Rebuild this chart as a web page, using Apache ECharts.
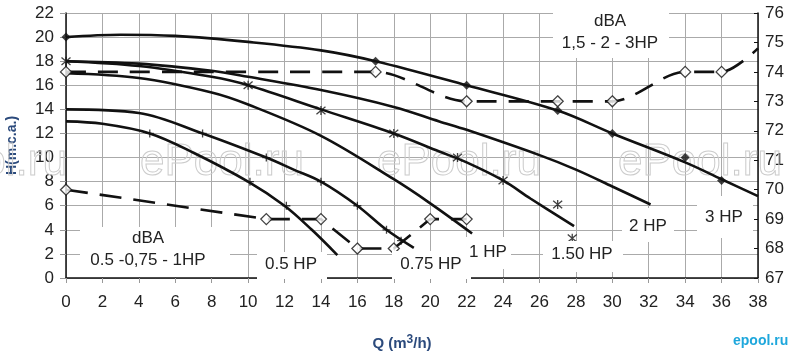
<!DOCTYPE html>
<html>
<head>
<meta charset="utf-8">
<script src="https://cdn.jsdelivr.net/npm/echarts@6/dist/echarts.min.js"></script>
<style>
  html, body { margin: 0; padding: 0; background: #fff; }
  #chart { width: 800px; height: 352px; }
</style>
</head>
<body>
<div id="chart"></div>
<script>
// curvas H (m.c.a.) por caudal Q (m3/h)
var q3hp = [0, 3, 6, 10, 14, 17, 22, 27, 30, 34, 36, 38];
var h3hp = [20, 20.2, 20.1, 19.6, 18.9, 18, 16, 13.9, 12, 9.6, 8.2, 6.8];
var q2hp = [0, 4, 8, 10, 14, 18, 20.5, 22, 26, 28, 30, 32.1];
var h2hp = [18, 17.8, 17.2, 16.7, 15.6, 14.2, 13.0, 12.3, 10.2, 9.0, 7.6, 6.1];
var q15hp = [0, 4, 8, 10, 14, 18, 20.5, 22, 24, 25.5, 27.9];
var h15hp = [18, 17.6, 16.7, 16, 14, 12, 10.5, 9.6, 8.1, 6.6, 4.3];
var q1hp = [0, 4, 8, 10, 14, 18, 20, 22.3];
var h1hp = [17, 16.6, 15.4, 14.4, 11.8, 8.2, 6.2, 3.7];
var q075hp = [0, 4, 7.5, 11, 12.5, 14, 16, 17.6, 19.1];
var h075hp = [14, 13.7, 12, 10, 9, 8, 6, 4, 2.5];
var q05hp = [0, 2, 4.6, 7, 10, 12, 13.5, 14.9];
var h05hp = [13, 12.8, 12, 10.4, 8, 6, 4, 1.9];

// ruido dBA (eje derecho)
var qDbaHigh = [0, 17, 22, 27, 30, 34, 36, 38];
var dbaHigh = [74, 74, 73, 73, 73, 74, 74, 74.8];
var qDbaLow = [0, 11, 14, 16, 18, 20, 22];
var dbaLow = [70, 69, 69, 68, 68, 69, 69];

// marcadores
var qMark3 = [0, 17, 22, 27, 30, 34, 36];
var hMark3 = [20, 18, 16, 13.9, 12, 10, 8.1];
var qMarkStar = [0, 10, 14, 18, 21.5, 24, 27, 27.8];
var hMarkStar = [18, 16, 13.9, 12, 10, 8.1, 6.1, 3.3];
var qMarkPlus = [4.6, 7.5, 11, 10.1, 14, 12.1, 16, 17.6, 18.4];
var hMarkPlus = [12, 12, 10, 8, 8, 6, 6, 4, 3.1];

var labels = ['dBA\n1,5 - 2 - 3HP', 'dBA\n0.5 -0,75 - 1HP', '0.5 HP', '0.75 HP', '1 HP', '1.50 HP', '2 HP', '3 HP'];

function zip(a, b) {
  var out = [];
  for (var i = 0; i < a.length; i++) out.push([a[i], b[i]]);
  return out;
}

var FONT = '"Liberation Sans", Arial, sans-serif';
var starPath = 'path://M0,0L10,10M10,0L0,10M5,-1L5,11';
var plusPath = 'path://M0,5L10,5M5,0L5,10';

function curve(name, q, h) {
  return {
    name: name, type: 'line', data: zip(q, h), smooth: 0.35, symbol: 'none',
    lineStyle: { color: '#111', width: 2.6 }, z: 3
  };
}
function marks(q, h, symbol, size, style, axis) {
  return {
    type: 'scatter', data: zip(q, h), symbol: symbol, symbolSize: size,
    yAxisIndex: axis || 0, itemStyle: style, z: 4
  };
}

var myChart = echarts.init(document.getElementById('chart'));

// cajas blancas de las etiquetas
function box(x, y, w, h, text, tx, ty) {
  return [
    { type: 'rect', shape: { x: x, y: y, width: w, height: h }, style: { fill: '#fff' }, z: 10 },
    { type: 'text', x: tx, y: ty, z: 11,
      style: { text: text, font: '17px ' + FONT, fill: '#222', align: 'center', verticalAlign: 'middle', lineHeight: 22 } }
  ];
}

var graphics = [];
[-97, 140, 377, 618].forEach(function (x) {
  graphics.push({ type: 'text', x: x, y: 163, z: 1,
    style: { text: 'ePool.ru', font: '44px ' + FONT, fill: 'none', stroke: '#cccccc', lineWidth: 1, verticalAlign: 'middle' } });
});
graphics = graphics
  .concat(box(553, 4, 116, 54, labels[0], 610, 32))
  .concat(box(80, 227, 150, 50, labels[1], 148, 249))
  .concat(box(257, 252, 70, 27, labels[2], 291, 264))
  .concat(box(392, 251, 79, 28, labels[3], 431, 264))
  .concat(box(466, 237, 45, 32, labels[4], 488, 252))
  .concat(box(543, 241, 80, 31, labels[5], 582, 254))
  .concat(box(622, 208, 52, 34, labels[6], 648, 226))
  .concat(box(697, 196, 56, 42, labels[7], 724, 217));
graphics.push({ type: 'text', x: 733, y: 334, z: 11,
  style: { text: 'epool.ru', font: 'bold 14px ' + FONT, fill: '#1ea7dc' } });

myChart.setOption({
  animation: false,
  backgroundColor: '#fff',
  grid: { left: 66, right: 42, top: 13, bottom: 74, containLabel: false, outerBoundsMode: 'none' },
  xAxis: {
    type: 'value', min: 0, max: 38, interval: 2,
    name: '{b|Q (m}{s|3}{b|/h)}', nameLocation: 'middle', nameGap: 56,
    nameTextStyle: {
      padding: [0, 20, 0, 0],
      rich: {
        b: { fontFamily: FONT, fontSize: 15, fontWeight: 'bold', color: '#2b4a7c' },
        s: { fontFamily: FONT, fontSize: 12, fontWeight: 'bold', color: '#2b4a7c', padding: [0, 0, 7, 0] }
      }
    },
    axisLine: { lineStyle: { color: '#111', width: 1.5 } },
    axisTick: { show: true, length: 5, lineStyle: { color: '#999' } },
    axisLabel: { fontFamily: FONT, fontSize: 17, color: '#222', margin: 16 },
    splitLine: { show: true, lineStyle: { color: '#aaa', width: 1 } }
  },
  yAxis: [{
    type: 'value', min: 0, max: 22, interval: 2,
    name: 'H(m.c.a.)', nameLocation: 'middle', nameGap: 47, nameRotate: 90,
    nameTextStyle: { fontFamily: FONT, fontSize: 14, fontWeight: 'bold', color: '#2b4a7c', padding: [0, 0, 0, 0] },
    axisLine: { show: true, lineStyle: { color: '#111', width: 1.5 } },
    axisTick: { show: true, length: 6, lineStyle: { color: '#999' } },
    axisLabel: { fontFamily: FONT, fontSize: 17, color: '#222', margin: 12 },
    splitLine: { show: true, lineStyle: { color: '#aaa', width: 1 } }
  }, {
    type: 'value', min: 67, max: 76, interval: 1, position: 'right',
    axisLine: { show: true, lineStyle: { color: '#111', width: 1.5 } },
    axisTick: { show: true, length: 4, inside: true, lineStyle: { color: '#111' } },
    axisLabel: { fontFamily: FONT, fontSize: 17, color: '#222', margin: 7 },
    splitLine: { show: false }
  }],
  graphic: graphics,
  series: [
    curve('3 HP', q3hp, h3hp),
    curve('2 HP', q2hp, h2hp),
    curve('1.50 HP', q15hp, h15hp),
    curve('1 HP', q1hp, h1hp),
    curve('0.75 HP', q075hp, h075hp),
    curve('0.5 HP', q05hp, h05hp),
    {
      name: 'dBA 1,5 - 2 - 3HP', type: 'line', yAxisIndex: 1, data: zip(qDbaHigh, dbaHigh),
      smooth: 0.3, symbol: 'none', z: 3,
      lineStyle: { color: '#111', width: 2.6, type: [20, 12] }
    },
    {
      name: 'dBA 0.5 -0,75 - 1HP', type: 'line', yAxisIndex: 1, data: zip(qDbaLow, dbaLow),
      symbol: 'none', z: 3,
      lineStyle: { color: '#111', width: 2.6, type: [22, 12] }
    },
    marks(qMark3, hMark3, 'diamond', 9, { color: '#111' }),
    marks(qMarkStar, hMarkStar, starPath, 9, { color: 'none', borderColor: '#111', borderWidth: 1.3 }),
    marks(qMarkPlus, hMarkPlus, plusPath, 8, { color: 'none', borderColor: '#111', borderWidth: 1.3 }),
    marks(qDbaHigh.slice(0, 7), dbaHigh.slice(0, 7), 'diamond', 11,
      { color: '#fff', borderColor: '#111', borderWidth: 1.3 }, 1),
    marks(qDbaLow, dbaLow, 'diamond', 11,
      { color: '#fff', borderColor: '#111', borderWidth: 1.3 }, 1)
  ]
});
</script>
</body>
</html>
